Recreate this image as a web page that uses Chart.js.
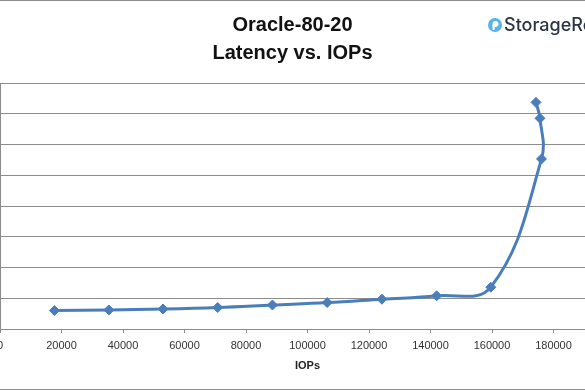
<!DOCTYPE html>
<html>
<head>
<meta charset="utf-8">
<script src="https://cdn.jsdelivr.net/npm/chart.js@4.4.1/dist/chart.umd.min.js"></script>
<style>
  body { margin: 0; background: #fff; }
  #frame { position: relative; width: 585px; height: 390px; overflow: hidden; background: #fff; }
  #box { position: absolute; left: -60px; top: 0; width: 700px; height: 390px; }
  .edge { position: absolute; left: 0; width: 585px; height: 1px; background: #8c8c8c; }
</style>
</head>
<body>
<div id="frame">
  <div id="box"><canvas id="latencyChart"></canvas></div>
  <div class="edge" style="top:0"></div>
  <div class="edge" style="top:389px"></div>
</div>
<script>
// punti (IOPs, latenza ms)
const iops = [17700, 35400, 53000, 70800, 88600, 106400, 124200, 142000, 159600, 176100, 175600, 174300];
const latency = [0.60, 0.62, 0.65, 0.70, 0.78, 0.86, 0.97, 1.08, 1.36, 5.53, 6.85, 7.37];
const titleLines = ['Oracle-80-20', 'Latency vs. IOPs'];
const xTitle = 'IOPs';
const logoText = 'StorageReview';

const blu = '#4a7ebb';
const griglia = '#8c8c8c';

const punti = iops.map((v, i) => ({ x: v, y: latency[i] }));

// logo in alto a destra
const logoPlugin = {
    id: 'logo',
    afterDraw(chart) {
        const ctx = chart.ctx;
        ctx.save();
        ctx.fillStyle = '#55b5ea';
        ctx.beginPath();
        ctx.arc(555, 25, 7, 0, Math.PI * 2);
        ctx.fill();
        ctx.fillStyle = '#fff';
        ctx.beginPath();
        ctx.arc(555.5, 24, 3, 0, Math.PI * 2);
        ctx.fill();
        ctx.fillRect(552.5, 24, 2.2, 6);
        ctx.fillStyle = '#2b3442';
        ctx.font = '500 18px Inter';
        ctx.textBaseline = 'alphabetic';
        ctx.fillText(logoText, 564, 31);
        ctx.restore();
    }
};

new Chart(document.getElementById('latencyChart'), {
    type: 'scatter',
    data: {
        datasets: [{
            label: 'Latency',
            data: punti,
            showLine: true,
            borderColor: blu,
            backgroundColor: blu,
            borderWidth: 3,
            tension: 0.4,
            pointStyle: 'rectRot',
            pointRadius: 5,
            pointBorderWidth: 1
        }]
    },
    options: {
        responsive: true,
        maintainAspectRatio: false,
        animation: false,
        layout: { padding: { left: 30, right: 25, top: 0, bottom: 0 } },
        scales: {
            x: {
                type: 'linear',
                min: 0,
                max: 200000,
                afterFit: (scale) => { scale.height = 61; },
                grid: { drawOnChartArea: false, drawTicks: true, tickLength: 4, color: griglia },
                border: { color: griglia },
                ticks: {
                    stepSize: 20000,
                    padding: 6,
                    maxRotation: 0,
                    color: '#333',
                    font: { family: 'Liberation Sans', size: 11 },
                    callback: (v) => String(v)
                },
                title: {
                    display: true,
                    text: xTitle,
                    color: '#222',
                    font: { family: 'Liberation Sans', size: 11, weight: 'bold' },
                    padding: { top: 4, bottom: 17 }
                }
            },
            y: {
                min: 0,
                max: 8,
                afterFit: (scale) => { scale.width = 30; },
                grid: { color: griglia, drawTicks: false },
                border: { color: griglia },
                ticks: { stepSize: 1, color: '#333', font: { family: 'Liberation Sans', size: 11 } }
            }
        },
        plugins: {
            legend: { display: false },
            tooltip: { enabled: false },
            title: {
                display: true,
                text: titleLines,
                color: '#111',
                font: { family: 'Liberation Sans', size: 20, weight: 'bold', lineHeight: 1.4 },
                padding: { top: 11, bottom: 16 }
            }
        }
    },
    plugins: [logoPlugin]
});
</script>
</body>
</html>
